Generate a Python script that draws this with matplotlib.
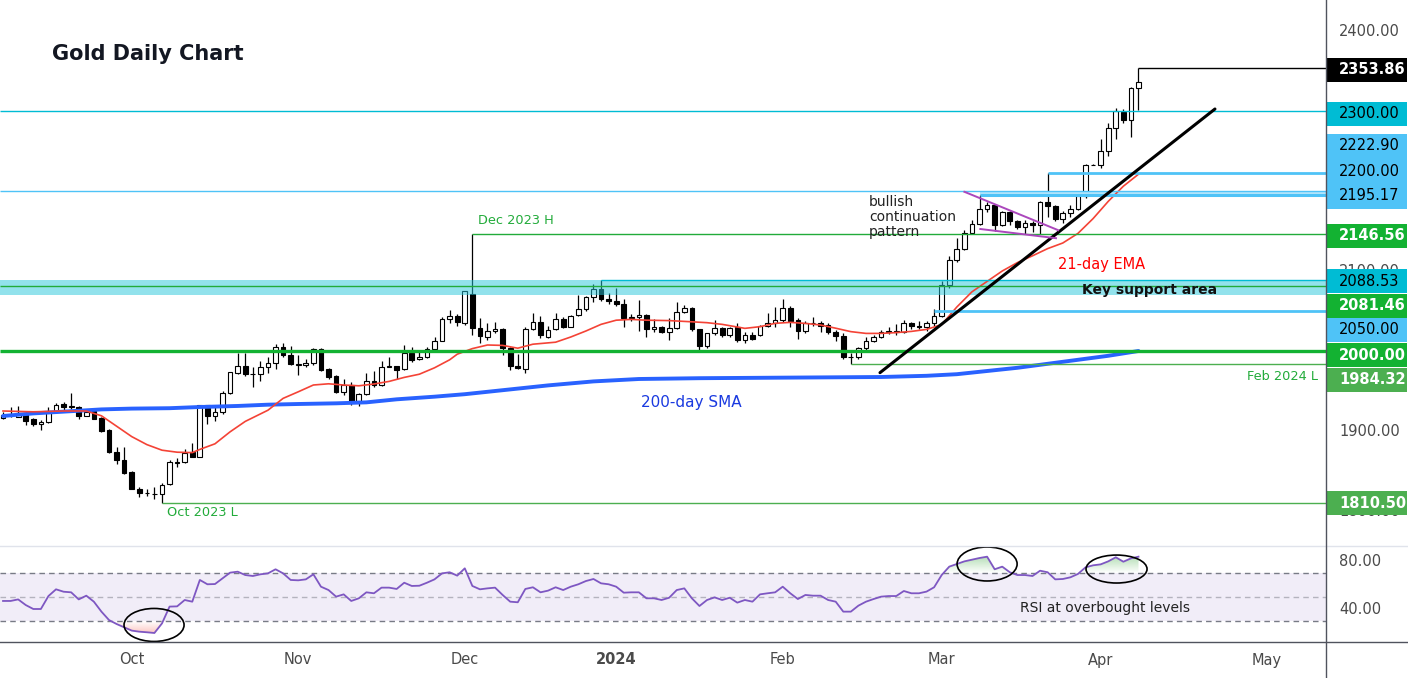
import numpy as np
import pandas as pd
import matplotlib
matplotlib.use('Agg')
import matplotlib.pyplot as plt
import matplotlib.transforms as mtransforms
from matplotlib.patches import Rectangle, Ellipse
from matplotlib.lines import Line2D
from matplotlib.path import Path
from matplotlib.colors import to_rgb

plt.rcParams['font.family'] = ['DejaVu Sans']

# ---------------- data ----------------
holidays = ['2023-12-25', '2024-01-01']
dates = pd.bdate_range('2023-09-07', '2024-04-08')
dates = dates[~dates.isin(pd.to_datetime(holidays))]

opens = [1916, 1920, 1918, 1923, 1914.5, 1908.5, 1911, 1923.5, 1934, 1930.5, 1930, 1919, 1925, 1916, 1901, 1874, 1864,
         1849, 1828, 1822.5, 1821.5, 1821, 1833.5, 1860.5, 1861, 1874, 1868, 1932.5, 1919, 1923.5, 1947, 1973, 1981, 1971.5, 1971, 1979.5, 1984.5, 2005.5, 1995.5,
         1983, 1982, 1984.5, 2003, 1977, 1968.5, 1949, 1958, 1937.5, 1946, 1962.5, 1957.5, 1980.5, 1981, 1977, 1997.5, 1989.5, 1992, 2002.5, 2013, 2040, 2044,
         2035.5, 2071, 2029, 2018, 2025, 2028, 2004, 1981.5, 1978, 2027, 2036, 2018, 2027, 2040, 2030.5, 2045, 2053, 2067, 2077, 2065,
         2062.5, 2058.5, 2041.5, 2042, 2045, 2027.5, 2029.5, 2023.5, 2028.5, 2048.5, 2054, 2027, 2006, 2022, 2028.5, 2020, 2029.5, 2013.5, 2020, 2020, 2031.5, 2035.5,
         2038.5, 2053.5, 2038.5, 2024.5, 2035.5, 2035, 2033, 2024, 2019, 1992, 1992, 2003.5, 2012.5, 2017, 2023.5, 2024.5, 2024, 2035, 2031, 2030.5, 2034.5,
         2043.5, 2082.5, 2114, 2127, 2147.5, 2158.5, 2178, 2182, 2158, 2174, 2162, 2155.5, 2160, 2157, 2186, 2181, 2165, 2172, 2178, 2194, 2233,
         2233, 2250, 2279, 2299, 2289, 2329]
highs = [1924, 1929.5, 1931, 1925.5, 1916, 1914, 1930, 1935, 1936, 1948, 1931, 1928, 1927, 1917, 1903, 1879.5, 1879.5,
         1849.5, 1830.5, 1827, 1830.5, 1835.5, 1864, 1866, 1878, 1884.5, 1933, 1933, 1930, 1950, 1974, 1997.5, 1997, 1980, 1988, 1992, 2009, 2009.5, 2006,
         1995, 1989.5, 2004, 2004, 1979, 1970, 1965, 1961, 1948, 1973, 1975.5, 1988, 1993, 1981.5, 2007.5, 2005.5, 1999, 2005.5, 2018, 2042, 2051.5, 2046,
         2075.5, 2146.56, 2041.5, 2034.5, 2036.5, 2029, 2005.5, 1996, 2030, 2048, 2043.5, 2031, 2047, 2043, 2045, 2070, 2068.5, 2084, 2088.53, 2073,
         2078.5, 2065, 2046, 2064, 2046, 2040.5, 2031, 2041, 2061, 2057.5, 2055, 2028, 2023, 2039, 2030, 2030, 2035.5, 2024, 2024, 2033, 2048, 2055.5,
         2065, 2056.5, 2041, 2037.5, 2043, 2038, 2035, 2026, 2022, 1997, 2005.5, 2017, 2020, 2026, 2030.5, 2034, 2039, 2036.5, 2038, 2037, 2052,
         2088, 2119, 2141, 2151.5, 2164, 2195.17, 2186.5, 2184, 2175.5, 2175, 2164, 2163.5, 2163, 2187.5, 2222.9, 2183, 2175.5, 2183, 2197, 2234, 2233.5,
         2265.5, 2285, 2304, 2303, 2330.5, 2353.86]
lows = [1914.5, 1917, 1917, 1907.5, 1906, 1901, 1910, 1922, 1926, 1928, 1914.5, 1918.5, 1915, 1899, 1873, 1858.5, 1846.5,
        1827, 1818, 1818.5, 1815.5, 1810.5, 1832.5, 1855, 1860, 1867.5, 1867, 1908.5, 1913, 1921, 1946, 1971.5, 1969, 1954.5, 1963, 1972, 1977, 1992, 1982.5,
        1970, 1980, 1983, 1975, 1965, 1948, 1945, 1932.5, 1931.5, 1945, 1955.5, 1956.5, 1979.5, 1965, 1976, 1986.5, 1988.5, 1991.5, 2001, 2012, 2035, 2031,
        2033, 2019.5, 2010, 2013.5, 2022, 1995.5, 1976, 1978, 1973, 2026, 2016, 2016.5, 2026, 2029, 2029.5, 2044, 2050.5, 2061.5, 2062, 2058.5,
        2056, 2030.5, 2038, 2024.5, 2017, 2024, 2022, 2013.5, 2027, 2047.5, 2025, 2001, 2004, 2020.5, 2017, 2017.5, 2011.5, 2009.5, 2013.5, 2019, 2030.5, 2030.5,
        2036.5, 2030.5, 2015.5, 2022.5, 2031, 2024, 2021, 2012.5, 1990.5, 1984.32, 1989.5, 2001, 2011.5, 2016, 2021.5, 2020, 2022, 2027, 2028, 2025, 2031,
        2042, 2079, 2111, 2126, 2146, 2157.5, 2174, 2150, 2156, 2157, 2153, 2146.5, 2149, 2146.5, 2168, 2162, 2160, 2168, 2176, 2191, 2232.5,
        2229, 2244, 2265, 2285, 2267, 2301]
closes = [1920, 1920.5, 1922, 1913, 1908.5, 1911, 1924, 1933, 1930.5, 1931, 1919, 1924, 1915.5, 1900, 1874, 1864, 1848,
          1828, 1823, 1822, 1821, 1833, 1861, 1861, 1873, 1868, 1932.5, 1919, 1923.5, 1947, 1973.5, 1981, 1971, 1971, 1979.5, 1984.5, 2005.5, 1995.5, 1983.5,
          1983.5, 1984.5, 2003, 1976, 1968, 1949, 1958, 1937.5, 1946, 1962.5, 1957, 1980.5, 1981, 1976, 1997.5, 1989, 1992, 2002.5, 2013, 2040, 2043.5, 2036,
          2074.5, 2029, 2018.5, 2025, 2028, 2004, 1981, 1979, 2027.5, 2036, 2019.5, 2026, 2040, 2030.5, 2044, 2053, 2067, 2077, 2065, 2062.5,
          2058.5, 2041, 2043, 2045, 2027.5, 2029.5, 2023.5, 2029, 2048.5, 2053.5, 2027.5, 2006, 2022, 2028.5, 2020, 2028.5, 2013.5, 2020, 2015, 2031.5, 2035.5, 2038.5,
          2053.5, 2038, 2024.5, 2035.5, 2035, 2031, 2024, 2019, 1992, 1992.5, 2003.5, 2012.5, 2017, 2023.5, 2024.5, 2024, 2035, 2031, 2030.5, 2034.5, 2044,
          2082.5, 2114, 2127, 2147.5, 2158.5, 2178, 2182, 2158, 2174, 2162, 2155.5, 2160, 2157, 2186, 2181, 2165, 2172, 2178, 2194, 2233, 2233,
          2250, 2279, 2300, 2289, 2329, 2336]

# 21-day EMA (bar index, value)
ema_idx = [0, 4, 8, 11, 13, 15, 17, 19, 21, 23, 25, 26, 28, 30, 32, 35, 37, 39, 41, 43, 45, 47, 49, 51, 53, 55, 57, 59, 60, 62,
           64, 66, 68, 70, 73, 75, 77, 79, 81, 83, 85, 88, 91, 93, 95, 97, 98, 100, 102, 104, 106, 108, 110, 112, 114, 116, 118, 120, 122, 124,
           126, 128, 130, 132, 134, 136, 138, 140, 142, 144, 146, 148, 150]
ema_val = [1925, 1924, 1925, 1925, 1919, 1906, 1893, 1883, 1876, 1873.5, 1873, 1877, 1884, 1899, 1912, 1926, 1940.8, 1949, 1957.5, 1959,
           1957.5, 1956.5, 1958.75, 1962, 1967, 1971, 1979, 1989, 1996, 2003, 2007.5, 2007, 2003.5, 2008.5, 2011, 2017.5, 2025, 2033.3, 2038.5, 2039.5,
           2038.5, 2038, 2036.5, 2035.4, 2033.3, 2030, 2028.3, 2030.4, 2034.6, 2035.8, 2034.5, 2032.5, 2028.5, 2024.2, 2022, 2022, 2023, 2024.5, 2027, 2033,
           2055, 2074, 2087, 2100, 2110.5, 2119, 2128, 2135, 2147, 2165.5, 2187, 2206, 2221]
# 200-day SMA
sma_idx = [0, 4, 8, 13, 17, 22, 26, 31, 35, 39, 44, 48, 52, 57, 61, 66, 72, 78, 84, 92, 100, 108, 116, 122, 126, 130, 134, 138, 142, 146, 150]
sma_val = [1918.75, 1922, 1924.2, 1927, 1928, 1928.5, 1930, 1931.3, 1932.9, 1933.75, 1934.6, 1935.8, 1939.6, 1942.9, 1946, 1951, 1957, 1962,
           1965, 1966, 1966.5, 1967, 1967.5, 1969, 1971, 1975, 1979, 1984, 1989, 1994, 2000]

rsi = [46.7, 46.7, 48, 43.3, 40, 40, 50.8, 56.4, 54.4, 53.9, 48, 51.1, 46.1, 37.8, 30.8, 27.5, 24.7,
       22, 21.1, 20.6, 20, 28, 42, 42.2, 47.5, 46.1, 64.2, 60.6, 60.8, 65.6, 70.3, 71.1, 68.3, 67.5, 68.9, 69.7, 73.1, 69.7, 64.2,
       63.9, 64.7, 68.9, 58.6, 55.8, 50.3, 52.2, 46.7, 48.9, 53.9, 53.1, 57.8, 57.8, 56.7, 61.9, 59.2, 59.4, 61.9, 64.7, 69.7, 70.6, 67.8,
       73.9, 59.2, 56.4, 57.2, 57.8, 51.7, 46.1, 45.6, 56.7, 58.1, 53.9, 55.3, 58.1, 55.8, 58.6, 60.6, 63.3, 65, 61.4, 60.6,
       58.6, 53.6, 53.9, 53.9, 48.9, 48.9, 47.5, 49.4, 55.8, 57.2, 48.9, 42.5, 47.5, 49.7, 47.5, 49.4, 45.3, 47.5, 46.1, 52.2, 53.1, 53.9,
       58.6, 53.1, 48.3, 51.7, 51.1, 51.1, 47.5, 46.1, 37.8, 37.8, 42.8, 46.1, 48.3, 50.3, 50.8, 50.8, 55, 53.1, 53.1, 54.5, 58.1,
       68.3, 75.3, 77.5, 79.7, 81.1, 82.5, 83.6, 73.1, 75.3, 70.6, 68.3, 68.3, 67.5, 71.9, 70.6, 64.7, 65, 66.4, 69.2, 74.7, 76.4,
       77.2, 79.7, 83.1, 79.4, 82.2, 83.6]

month_labels = ['Oct', 'Nov', 'Dec', '2024', 'Feb', 'Mar', 'Apr', 'May']
month_starts = ['2023-10-01', '2023-11-01', '2023-12-01', '2024-01-01', '2024-02-01', '2024-03-01', '2024-04-01']
# axis labels that are not hidden by price tags
price_ticks = [1800, 1900, 2100, 2400]
rsi_ticks = [80, 40]

# key levels: (price, start date or None for full width, color, linewidth)
levels = [
    (2353.86, '2024-04-08', '#000000', 1.0),
    (2300.00, None, '#00BCD4', 1.0),
    (2222.90, '2024-03-21', '#4FC3F7', 2.0),
    (2200.00, None, '#4FC3F7', 1.0),
    (2195.17, '2024-03-08', '#4FC3F7', 2.2),
    (2146.56, '2023-12-04', '#22AB3A', 1.0),
    (2088.53, '2023-12-28', '#00BCD4', 1.0),
    (2081.46, None, '#22AB3A', 1.0),
    (2050.00, '2024-02-29', '#4FC3F7', 2.0),
    (2000.00, None, '#13B232', 2.4),
    (1984.32, '2024-02-14', '#4CAF50', 1.0),
    (1810.50, '2023-10-06', '#4CAF50', 1.0),
]
support_band = (2070.0, 2088.53)

# price-scale tags: (text, shown at price, face, text color)
tags = [
    ('2353.86', 2351.25, '#000000', 'white'),
    ('2300.00', 2296.25, '#00BCD4', 'black'),
    ('2146.56', 2143.75, '#13B232', 'white'),
    ('2088.53', 2087.5, '#00BCD4', 'black'),
    ('2081.46', 2056.25, '#13B232', 'white'),
    ('2050.00', 2026.25, '#4FC3F7', 'black'),
    ('2000.00', 1995.0, '#13B232', 'white'),
    ('1984.32', 1963.75, '#4CAF50', 'white'),
    ('1810.50', 1810.0, '#4CAF50', 'white'),
]
block_tags = [('2222.90', 2256.25), ('2200.00', 2223.75), ('2195.17', 2193.75)]
block_range = (2177.5, 2271.25)

# ---------------- figure ----------------
W, H = 1408, 678
fig = plt.figure(figsize=(W / 100, H / 100), dpi=100)
ax = fig.add_axes([0, 1 - 546 / H, 1326 / W, 546 / H])
axr = fig.add_axes([0, 1 - 642 / H, 1326 / W, 96 / H])
XL = (-0.4, 174.77)
for a in (ax, axr):
    a.set_xticks([]); a.set_yticks([])
    for s in a.spines.values():
        s.set_visible(False)

x = np.arange(len(closes))
o = np.array(opens); hi = np.array(highs); lo = np.array(lows); c = np.array(closes)
up = c >= o
ax.vlines(x, lo, hi, color='black', lw=0.9, zorder=3)
ax.bar(x, np.abs(c - o), bottom=np.minimum(o, c), width=0.62,
       color=['white' if u else 'black' for u in up], edgecolor='black', lw=0.8, zorder=4)

ax.plot(sma_idx, sma_val, color='#2962FF', lw=2.8, zorder=6, solid_capstyle='round')
ax.plot(ema_idx, ema_val, color='#F44336', lw=1.2, zorder=6)

ax.axhspan(support_band[0], support_band[1], facecolor='#26C6DA', alpha=0.5, lw=0, zorder=5)
# band behind 2195-2200 zone from Mar 8
i_mar8 = int(np.searchsorted(dates, pd.Timestamp('2024-03-08')))
ax.fill_between([i_mar8, XL[1]], 2195.17, 2200.0, color='#B3E5FC', lw=0, zorder=5)

for p, start, col, lw in levels:
    xs = XL[0] if start is None else int(np.searchsorted(dates, pd.Timestamp(start)))
    ax.hlines(p, xs, XL[1], color=col, lw=lw, zorder=7)

# trendline & pattern lines (drawings)
ax.plot([115.85, 160.1], [1972.9, 2302.5], color='black', lw=2.2, zorder=8, solid_capstyle='round')
ax.plot([127.0, 139.4], [2199.0, 2151.0], color='#AB47BC', lw=1.4, zorder=8)
ax.plot([129.1, 139.1], [2152.5, 2141.0], color='#AB47BC', lw=1.4, zorder=8)

# annotations
ax.text(62.8, 2162.5, 'Dec 2023 H', color='#22AB3A', fontsize=9.3, va='center', ha='left', zorder=9)
ax.text(21.7, 1797.5, 'Oct 2023 L', color='#22AB3A', fontsize=9.3, va='center', ha='left', zorder=9)
ax.text(173.7, 1967.5, 'Feb 2024 L', color='#22AB3A', fontsize=9.3, va='center', ha='right', zorder=9)
ax.text(142.5, 2076, 'Key support area', color='#111111', fontsize=10, fontweight='bold', va='center', ha='left', zorder=9)
ax.text(139.4, 2107.5, '21-day EMA', color='#FF0000', fontsize=10.5, va='center', ha='left', zorder=9)
ax.text(84.3, 1936, '200-day SMA', color='#1A3AE0', fontsize=11, va='center', ha='left', zorder=9)
ax.text(114.4, 2167.5, 'bullish\ncontinuation\npattern', color='#222222', fontsize=10, va='center', ha='left',
        linespacing=1.05, zorder=9)

# price scale
trans = mtransforms.blended_transform_factory(ax.transAxes, ax.transData)
xl = 1339 / 1326
for p in price_ticks:
    ax.text(xl, p, f'{p:.2f}', transform=trans, fontsize=10.5, color='#4A4A4A', va='center', ha='left',
            clip_on=False, zorder=15)
tw = (1407 - 1326) / 1326
for txt, p, fc, tc in tags:
    ax.add_patch(Rectangle((1.0, p - 15), tw, 30, transform=trans, facecolor=fc, edgecolor='none',
                           clip_on=False, zorder=20))
    ax.text(xl, p, txt, transform=trans, fontsize=10.5, color=tc, va='center', ha='left', clip_on=False,
            zorder=21, fontweight='bold' if tc == 'white' else 'normal')
ax.add_patch(Rectangle((1.0, block_range[0]), tw, block_range[1] - block_range[0], transform=trans,
                       facecolor='#4FC3F7', edgecolor='none', clip_on=False, zorder=20))
for txt, p in block_tags:
    ax.text(xl, p, txt, transform=trans, fontsize=10.5, color='black', va='center', ha='left',
            clip_on=False, zorder=21)

# ---------------- RSI ----------------
axr.axhspan(30, 70, facecolor='#7E57C2', alpha=0.1, lw=0, zorder=1)
axr.axhline(70, color='#787B86', lw=1, ls=(0, (4, 3)), zorder=2)
axr.axhline(30, color='#787B86', lw=1, ls=(0, (4, 3)), zorder=2)
axr.axhline(50, color='#787B86', lw=1, ls=(0, (4, 3)), alpha=0.5, zorder=2)
rs = np.array(rsi)


def grad_fill(axx, xs, ys, base, far, color, amax, above):
    if above:
        pc = axx.fill_between(xs, ys, base, where=ys > base, interpolate=True, facecolor='none', edgecolor='none')
    else:
        pc = axx.fill_between(xs, ys, base, where=ys < base, interpolate=True, facecolor='none', edgecolor='none')
    paths = pc.get_paths()
    if not paths:
        return
    cp = Path.make_compound_path(*paths)
    n = 128
    img = np.zeros((n, 1, 4))
    img[..., :3] = to_rgb(color)
    ramp = np.linspace(0, amax, n) if above else np.linspace(amax, 0, n)
    img[:, 0, 3] = ramp
    lo_, hi_ = (base, far) if above else (far, base)
    im = axx.imshow(img, extent=[xs[0], xs[-1], lo_, hi_], origin='lower', aspect='auto', zorder=3,
                    interpolation='bilinear')
    im.set_clip_path(cp, transform=axx.transData)


grad_fill(axr, x.astype(float), rs, 70, 86, '#4CAF50', 0.5, True)
grad_fill(axr, x.astype(float), rs, 30, 17, '#F44336', 0.4, False)
axr.plot(x, rs, color='#7E57C2', lw=1.3, zorder=5)

for (cx, cy, w, h) in [(19.95, 26.7, 7.93, 27.5), (130.0, 77.5, 7.93, 28.3), (147.1, 73.3, 8.06, 23.3)]:
    axr.add_patch(Ellipse((cx, cy), w, h, fill=False, ec='black', lw=1.2, zorder=8))
axr.text(145.6, 40.8, 'RSI at overbought levels', color='#222222', fontsize=10, ha='center', va='center', zorder=9)

transr = mtransforms.blended_transform_factory(axr.transAxes, axr.transData)
for r in rsi_ticks:
    axr.text(xl, r, f'{r:.2f}', transform=transr, fontsize=10.5, color='#4A4A4A', va='center', ha='left',
             clip_on=False)

# month labels
idxs = [int(np.searchsorted(dates, pd.Timestamp(m))) for m in month_starts]
idxs.append(len(dates) - 1 + len(pd.bdate_range('2024-04-09', '2024-05-01')))
transx = mtransforms.blended_transform_factory(axr.transData, axr.transAxes)
for i, lab in zip(idxs, month_labels):
    axr.text(i, -(660 - 642) / 96, lab, transform=transx, ha='center', va='center', fontsize=10.5,
             color='#4A4A4A', clip_on=False, fontweight='bold' if lab == '2024' else 'normal')

# title
fig.text(52 / W, 1 - 54 / H, 'Gold Daily Chart', fontsize=15, fontweight='bold', va='center', ha='left',
         color='#131722')

# frame lines
fig.add_artist(Line2D([0, 1], [1 - 546 / H] * 2, transform=fig.transFigure, color='#E0E3EB', lw=1))
fig.add_artist(Line2D([0, 1], [1 - 642 / H] * 2, transform=fig.transFigure, color='#50535E', lw=1))
fig.add_artist(Line2D([1326 / W] * 2, [0, 1], transform=fig.transFigure, color='#50535E', lw=1))

for a in (ax, axr):
    a.set_xlim(*XL)
ax.set_ylim(1756.25, 2438.75)
axr.set_ylim(12.5, 92.5)

fig.savefig('out.png', dpi=100, facecolor='white')
